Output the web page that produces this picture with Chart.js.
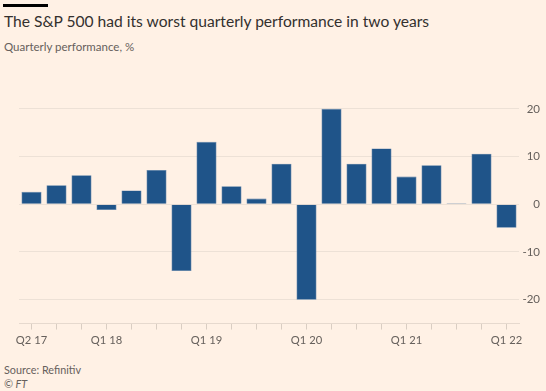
<!DOCTYPE html>
<html>
<head>
<meta charset="utf-8">
<script src="https://cdn.jsdelivr.net/npm/chart.js@4.4.1/dist/chart.umd.min.js"></script>
<style>
  html, body { margin: 0; padding: 0; background: #fff1e5; }
  body { width: 546px; height: 391px; position: relative; overflow: hidden; font-family: Lato, sans-serif; }
  .bar { position: absolute; left: 3px; top: 4px; width: 45px; height: 3px; background: #000; }
  .title { position: absolute; left: 4px; top: 12px; font-size: 15.6px; color: #33302e; white-space: nowrap; }
  .sub { position: absolute; left: 4px; top: 40px; font-size: 11.5px; color: #66605c; white-space: nowrap; }
  .src { position: absolute; left: 4px; top: 363px; font-size: 10.8px; color: #66605c; }
  .ft { position: absolute; left: 4px; top: 377px; font-size: 10.8px; color: #66605c; font-style: italic; }
  #wrap { position: absolute; left: 0; top: 70px; width: 546px; height: 281px; }
</style>
</head>
<body>
<div class="bar"></div>
<div class="title">The S&amp;P 500 had its worst quarterly performance in two years</div>
<div class="sub">Quarterly performance, %</div>
<div id="wrap"><canvas id="chart"></canvas></div>
<div class="src">Source: Refinitiv</div>
<div class="ft">© FT</div>
<script>
const quarters = ['Q2 17', 'Q3 17', 'Q4 17', 'Q1 18', 'Q2 18', 'Q3 18', 'Q4 18', 'Q1 19', 'Q2 19', 'Q3 19',
                  'Q4 19', 'Q1 20', 'Q2 20', 'Q3 20', 'Q4 20', 'Q1 21', 'Q2 21', 'Q3 21', 'Q4 21', 'Q1 22'];
const performance = [2.6, 4.0, 6.1, -1.2, 2.9, 7.2, -14.0, 13.1, 3.8, 1.2,
                     8.5, -20.0, 20.0, 8.5, 11.7, 5.8, 8.2, 0.2, 10.6, -4.9];
const shownLabels = ['Q2 17', 'Q1 18', 'Q1 19', 'Q1 20', 'Q1 21', 'Q1 22'];
const yTicks = [-20, -10, 0, 10, 20];

new Chart(document.getElementById('chart'), {
    type: 'bar',
    data: {
        labels: quarters,
        datasets: [{
            data: performance,
            backgroundColor: '#1f5489',
            borderColor: '#4f7aa6',
            borderWidth: 0.6,
            categoryPercentage: 1,
            barPercentage: 0.8
        }]
    },
    options: {
        responsive: true,
        maintainAspectRatio: false,
        animation: false,
        layout: { padding: { left: 19, right: 6, top: 15, bottom: 0 } },
        plugins: {
            legend: { display: false },
            tooltip: { enabled: false }
        },
        scales: {
            x: {
                grid: {
                    offset: false,
                    drawOnChartArea: false,
                    drawTicks: true,
                    tickLength: 6,
                    color: '#d9cdc2'
                },
                border: { color: '#e6d9ce' },
                ticks: {
                    autoSkip: false,
                    maxRotation: 0,
                    padding: 4,
                    color: '#66605c',
                    font: { family: 'Lato', size: 11.2 },
                    callback: function (val, index) {
                        const l = this.getLabelForValue(val);
                        return shownLabels.includes(l) ? l : '';
                    }
                }
            },
            y: {
                position: 'right',
                min: -25,
                max: 25,
                afterBuildTicks: (scale) => { scale.ticks = yTicks.map(v => ({ value: v })); },
                afterFit: (scale) => { scale.width = 21; },
                grid: { color: '#ede1d6', drawTicks: false },
                border: { display: false },
                ticks: {
                    padding: 3,
                    crossAlign: 'far',
                    color: '#66605c',
                    font: { family: 'Lato', size: 11.5 }
                }
            }
        }
    }
});
</script>
</body>
</html>
